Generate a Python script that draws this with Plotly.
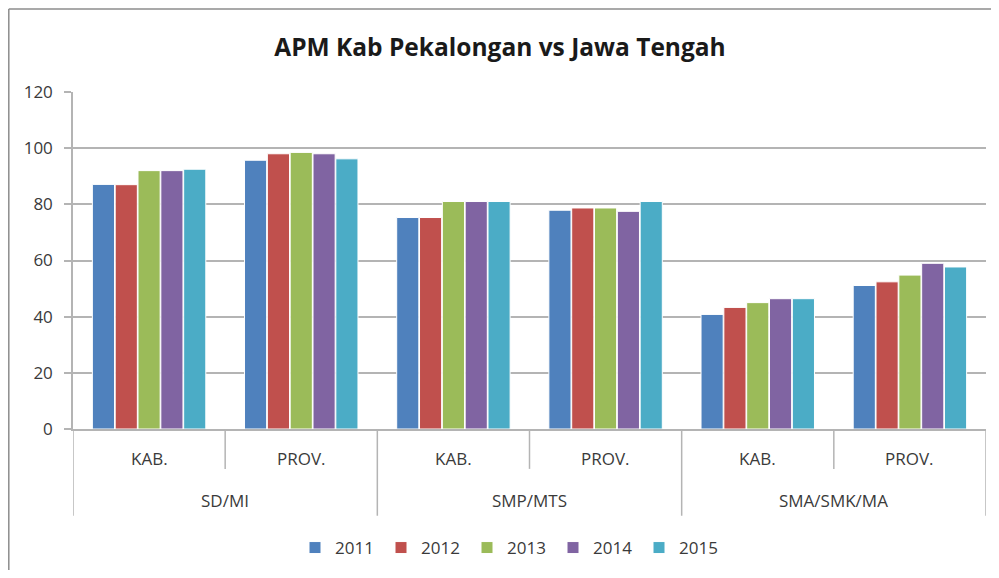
import plotly.graph_objects as go

groups = ["SD/MI", "SMP/MTS", "SMA/SMK/MA"]
subs = ["KAB.", "PROV."]
years = ["2011", "2012", "2013", "2014", "2015"]
colors = ["#4F81BD", "#C0504D", "#9BBB59", "#8064A2", "#4BACC6"]

# values per category: SD/MI KAB, SD/MI PROV, SMP KAB, SMP PROV, SMA KAB, SMA PROV
v2011 = [87.1, 95.7, 75.3, 77.9, 40.8, 51.1]
v2012 = [87.0, 98.0, 75.3, 78.7, 43.3, 52.4]
v2013 = [92.0, 98.5, 81.0, 78.7, 45.0, 54.8]
v2014 = [92.0, 98.0, 81.0, 77.5, 46.4, 59.0]
v2015 = [92.5, 96.2, 81.0, 81.0, 46.4, 57.7]
series = [v2011, v2012, v2013, v2014, v2015]
yticks = [0, 20, 40, 60, 80, 100, 120]

cats = [g + " " + s for g in groups for s in subs]

OFF = 8  # page body margin
W, H = 999 - 2 * OFF, 578 - 2 * OFF
L, T = 73 - OFF, 92 - OFF
R = (OFF + W) - 986
B = (OFF + H) - 430
ph = H - T - B
pw = W - L - R

def py(pix):  # page pixel y -> paper y
    return (H - B - (pix - OFF)) / ph

def px(pix):  # page pixel x -> paper x
    return ((pix - OFF) - L) / pw

fig = go.Figure()
for yr, vals, c in zip(years, series, colors):
    fig.add_trace(go.Bar(x=cats, y=vals, name=yr,
                         marker=dict(color=c, line=dict(color="white", width=1))))

font_lbl = "Open Sans, Liberation Sans, sans-serif"
txt_c = "#3a3a3a"
grid_c = "#b4b4b4"

annotations = []
for i, cat in enumerate(cats):
    annotations.append(dict(x=cat, y=py(460), xref="x", yref="paper", text=subs[i % 2],
                            showarrow=False, yanchor="middle",
                            font=dict(size=17, color=txt_c, family=font_lbl)))
for gi, g in enumerate(groups):
    annotations.append(dict(x=gi * 2 + 0.5, y=py(502), xref="x", yref="paper", text=g,
                            showarrow=False, yanchor="middle",
                            font=dict(size=17, color=txt_c, family=font_lbl)))

shapes = []
for k in range(7):
    pos = k - 0.5
    bottom = py(517) if k % 2 == 0 else py(470)
    shapes.append(dict(type="line", xref="x", yref="paper", x0=pos, x1=pos, y0=bottom, y1=0,
                       line=dict(color=grid_c, width=1.5)))
# outer chart frame (left and top edges visible)
frame = dict(color="#8c8c8c", width=1.5)
shapes.append(dict(type="line", xref="paper", yref="paper", x0=px(8.8), x1=px(8.8),
                   y0=py(600), y1=py(8.8), line=frame, layer="below"))
shapes.append(dict(type="line", xref="paper", yref="paper", x0=px(8.8), x1=px(1020),
                   y0=py(8.8), y1=py(8.8), line=frame, layer="below"))

fig.update_layout(
    width=W, height=H,
    margin=dict(l=L, r=R, t=T, b=B),
    paper_bgcolor="white", plot_bgcolor="white",
    barmode="group", bargap=0.25, bargroupgap=0.03,
    title=dict(text="<b>APM Kab Pekalongan vs Jawa Tengah</b>", x=px(500), xanchor="center",
               xref="paper", y=1 - (47 - OFF) / H, yanchor="middle",
               font=dict(size=24.5, color="#1a1a1a", family="Open Sans, Liberation Sans, sans-serif")),
    xaxis=dict(type="category", range=[-0.5, 5.5], showticklabels=False, showgrid=False,
               showline=True, linecolor=grid_c, linewidth=1.5, ticks="", zeroline=False),
    yaxis=dict(range=[0, 120], tickvals=yticks, showgrid=True, gridcolor=grid_c, gridwidth=1.5,
               showline=True, linecolor=grid_c, linewidth=1.5, ticks="outside", ticklen=7,
               tickcolor=grid_c, tickwidth=1.5, zeroline=False, ticklabelstandoff=8,
               tickfont=dict(size=17, color=txt_c, family=font_lbl)),
    legend=dict(orientation="h", x=px(510), xanchor="center", y=py(548), yanchor="middle",
                font=dict(size=17, color=txt_c, family=font_lbl), itemwidth=30,
                entrywidth=41, entrywidthmode="pixels", tracegroupgap=0),
    annotations=annotations,
    shapes=shapes,
)
fig.write_html("out.html")
